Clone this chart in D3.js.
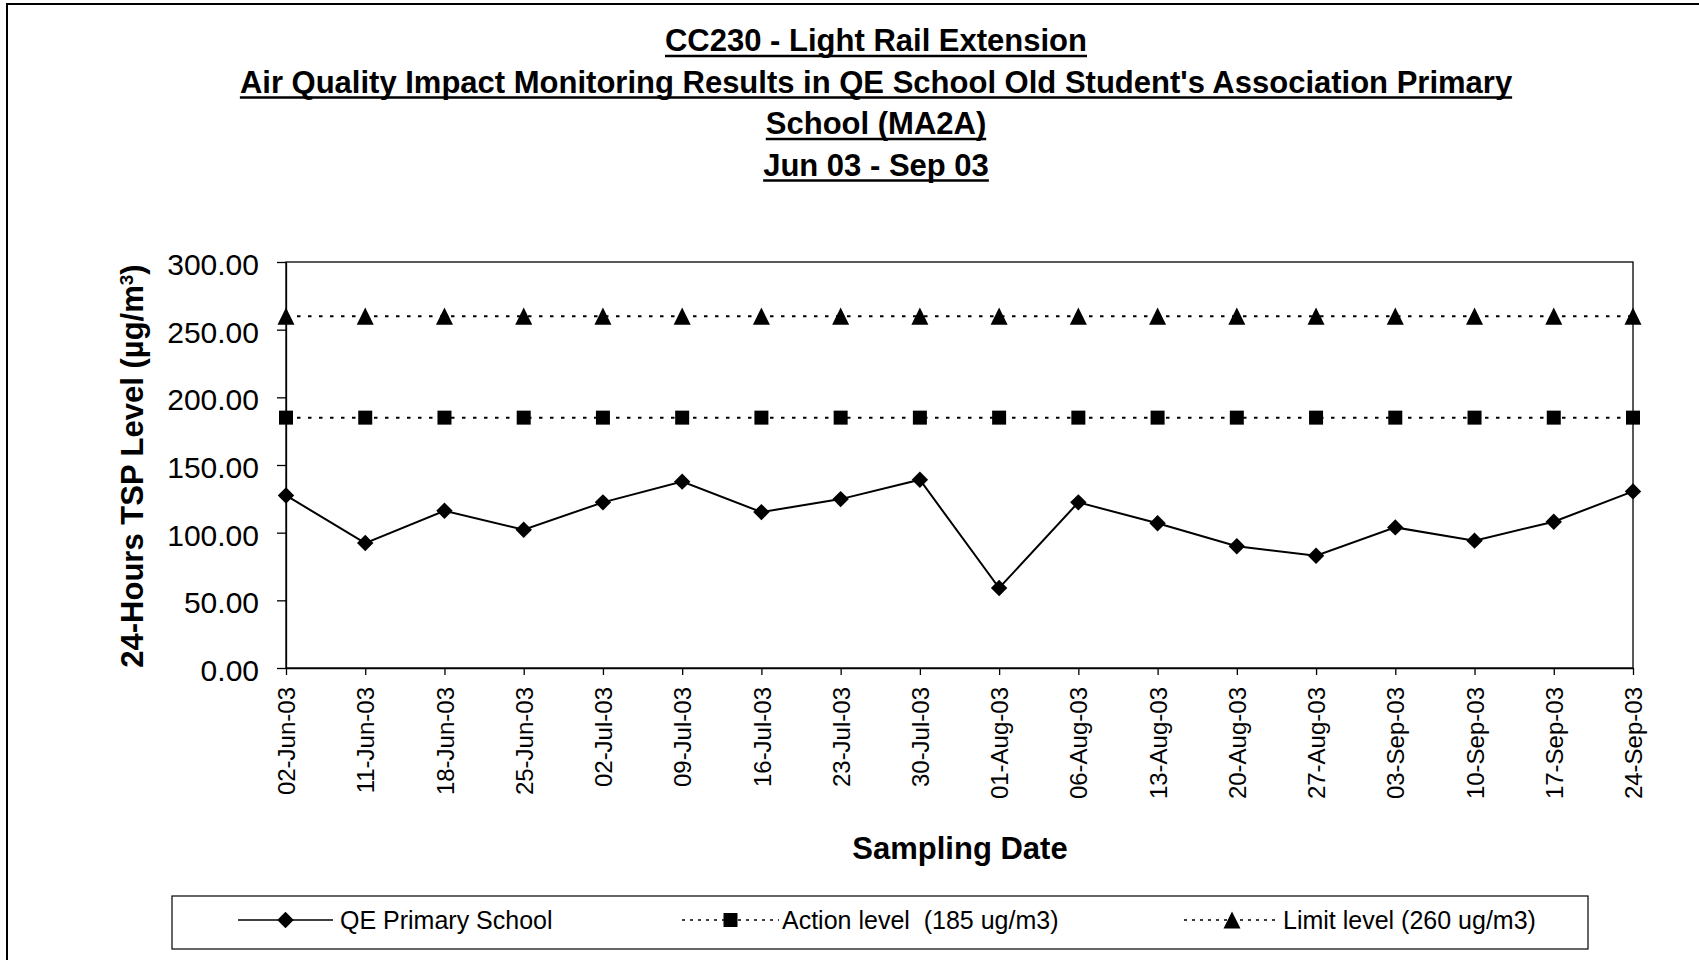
<!DOCTYPE html>
<html>
<head>
<meta charset="utf-8">
<script src="https://d3js.org/d3.v7.min.js"></script>
<style>
  body { margin: 0; background: #fff; }
  svg { display: block; font-family: "Liberation Sans", Arial, sans-serif; }
  .title { font-weight: bold; font-size: 31px; text-anchor: middle; }
</style>
</head>
<body>
<script>
// sampling dates (categories)
var dates = ["02-Jun-03", "11-Jun-03", "18-Jun-03", "25-Jun-03", "02-Jul-03", "09-Jul-03",
             "16-Jul-03", "23-Jul-03", "30-Jul-03", "01-Aug-03", "06-Aug-03", "13-Aug-03",
             "20-Aug-03", "27-Aug-03", "03-Sep-03", "10-Sep-03", "17-Sep-03", "24-Sep-03"];
// 24-hour TSP readings at QE Primary School
var qeValues = [127.5, 92.3, 116.2, 102.2, 122.4, 137.7, 115.2, 124.8, 139.1,
                59.1, 122.4, 106.9, 89.9, 83.0, 103.9, 94.1, 108.1, 130.5];
var actionValues = [185, 185, 185, 185, 185, 185, 185, 185, 185,
                    185, 185, 185, 185, 185, 185, 185, 185, 185];
var limitValues = [260, 260, 260, 260, 260, 260, 260, 260, 260,
                   260, 260, 260, 260, 260, 260, 260, 260, 260];
var yTicks = [0, 50, 100, 150, 200, 250, 300];
var titleLines = ["CC230 - Light Rail Extension",
                  "Air Quality Impact Monitoring Results in QE School Old Student's Association Primary",
                  "School (MA2A)",
                  "Jun 03 - Sep 03"];
var seriesNames = ["QE Primary School", "Action level\u00a0\u00a0(185 ug/m3)", "Limit level (260 ug/m3)"];

var width = 1699, height = 960;
var svg = d3.select("body").append("svg")
    .attr("width", width)
    .attr("height", height);

// outer chart frame (only top and left edges show)
svg.append("path")
    .attr("d", "M7,960 V4 H1699")
    .attr("fill", "none")
    .attr("stroke", "#000")
    .attr("stroke-width", 2);

// titles, underlined by hand so the rule is heavy like the original
var titles = svg.selectAll("text.title")
    .data(titleLines)
    .enter().append("text")
    .attr("class", "title")
    .attr("x", 876)
    .attr("y", function (d, i) { return 51 + i * 41.5; })
    .text(function (d) { return d; });
titles.each(function (d, i) {
  var w = this.getComputedTextLength();
  svg.append("line")
      .attr("x1", 876 - w / 2).attr("x2", 876 + w / 2)
      .attr("y1", 51 + i * 41.5 + 5).attr("y2", 51 + i * 41.5 + 5)
      .attr("stroke", "#000").attr("stroke-width", 2.6);
});

var x = d3.scalePoint().domain(dates).range([286, 1633]);
var y = d3.scaleLinear().domain([0, 300]).range([668, 262]);

// plot area border
svg.append("rect")
    .attr("x", 286).attr("y", 262)
    .attr("width", 1633 - 286).attr("height", 668 - 262)
    .attr("fill", "#fff").attr("stroke", "#000").attr("stroke-width", 1.3);

// y axis
var yAxis = svg.append("g")
    .attr("transform", "translate(286,0)")
    .call(d3.axisLeft(y).tickValues(yTicks).tickFormat(d3.format(".2f")).tickSize(9).tickSizeOuter(0).tickPadding(18));
yAxis.attr("font-family", "Liberation Sans, Arial, sans-serif");
yAxis.selectAll("text").style("font-size", "30px").attr("fill", "#000").attr("dy", "0.42em");
yAxis.selectAll("line, path").attr("stroke", "#000").attr("stroke-width", 1.3);

// x axis
var xAxis = svg.append("g")
    .attr("transform", "translate(0,668)")
    .call(d3.axisBottom(x).tickSize(7).tickSizeOuter(0));
xAxis.attr("font-family", "Liberation Sans, Arial, sans-serif");
xAxis.selectAll("line, path").attr("stroke", "#000").attr("stroke-width", 1.3);
xAxis.selectAll("text")
    .style("font-size", "24px")
    .attr("fill", "#000")
    .attr("transform", "rotate(-90)")
    .attr("text-anchor", "end")
    .attr("x", -19)
    .attr("y", 0)
    .attr("dy", "0.36em");

// axis titles
var yTitle = svg.append("text")
    .attr("transform", "translate(143,466) rotate(-90)")
    .attr("text-anchor", "middle")
    .style("font-weight", "bold")
    .style("font-size", "31px");
yTitle.append("tspan").text("24-Hours TSP Level (\u00b5g/m");
yTitle.append("tspan").attr("baseline-shift", "super").style("font-size", "19px").text("3");
yTitle.append("tspan").text(")");

svg.append("text")
    .attr("x", 960).attr("y", 859)
    .attr("text-anchor", "middle")
    .style("font-weight", "bold")
    .style("font-size", "31px")
    .text("Sampling Date");

// marker shapes (triangle as tall as it is wide, like Excel's)
var triangleType = {
  draw: function (context, size) {
    var s = Math.sqrt(size);
    context.moveTo(0, -s / 2);
    context.lineTo(s / 2, s / 2);
    context.lineTo(-s / 2, s / 2);
    context.closePath();
  }
};
var diamond = d3.symbol().type(d3.symbolDiamond2).size(172);
var square = d3.symbol().type(d3.symbolSquare).size(196);
var triangle = d3.symbol().type(triangleType).size(290);

function drawSeries(values, dash, shape) {
  var line = d3.line()
      .x(function (d, i) { return x(dates[i]); })
      .y(function (d) { return y(d); });
  svg.append("path")
      .datum(values)
      .attr("d", line)
      .attr("fill", "none")
      .attr("stroke", "#000")
      .attr("stroke-width", 2)
      .attr("stroke-dasharray", dash);
  svg.append("g").selectAll("path")
      .data(values)
      .enter().append("path")
      .attr("transform", function (d, i) { return "translate(" + x(dates[i]) + "," + y(d) + ")"; })
      .attr("d", shape)
      .attr("fill", "#000");
}

drawSeries(limitValues, "3.5,7.5", triangle);
drawSeries(actionValues, "3.5,7.5", square);
drawSeries(qeValues, null, diamond);

// legend
svg.append("rect")
    .attr("x", 172).attr("y", 896)
    .attr("width", 1588 - 172).attr("height", 949 - 896)
    .attr("fill", "#fff").attr("stroke", "#000").attr("stroke-width", 1.2);

var legendItems = [
  { name: seriesNames[0], x0: 238, x1: 333, tx: 340, dash: null, shape: diamond },
  { name: seriesNames[1], x0: 682, x1: 779, tx: 782, dash: "3,5", shape: square },
  { name: seriesNames[2], x0: 1184, x1: 1280, tx: 1283, dash: "3,5", shape: triangle }
];
var lg = svg.append("g").selectAll("g")
    .data(legendItems)
    .enter().append("g");
lg.append("line")
    .attr("x1", function (d) { return d.x0; })
    .attr("x2", function (d) { return d.x1; })
    .attr("y1", 920).attr("y2", 920)
    .attr("stroke", "#000").attr("stroke-width", 1.6)
    .attr("stroke-dasharray", function (d) { return d.dash; });
lg.append("path")
    .attr("transform", function (d) { return "translate(" + ((d.x0 + d.x1) / 2) + ",920)"; })
    .attr("d", function (d) { return d.shape(); })
    .attr("fill", "#000");
lg.append("text")
    .attr("x", function (d) { return d.tx; })
    .attr("y", 920)
    .attr("dy", "0.36em")
    .style("font-size", "25px")
    .text(function (d) { return d.name; });
</script>
</body>
</html>
